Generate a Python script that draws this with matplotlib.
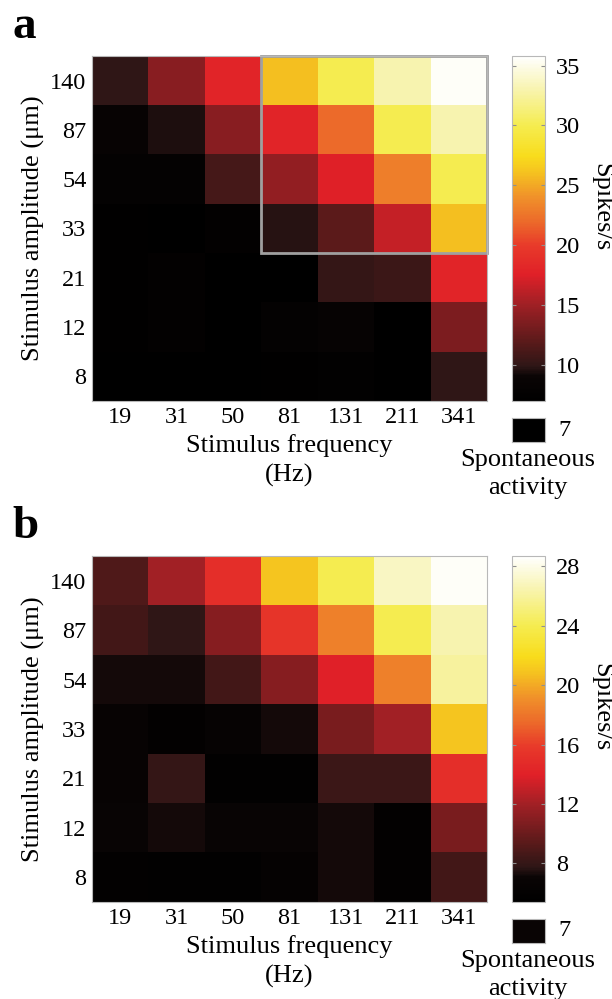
import numpy as np
import matplotlib
matplotlib.use("Agg")
import matplotlib.pyplot as plt
from matplotlib.colors import LinearSegmentedColormap, Normalize
from matplotlib.patches import Rectangle

plt.rcParams["font.family"] = ["Liberation Serif", "DejaVu Serif"]

# data
freqs = ["19", "31", "50", "81", "131", "211", "341"]
amps = ["140", "87", "54", "33", "21", "12", "8"]  # top to bottom

rates_a = [
    [10.0, 14.0, 18.0, 26.0, 30.0, 33.0, 35.5],
    [8.5, 9.5, 14.0, 18.0, 22.0, 30.0, 33.0],
    [8.0, 8.0, 11.0, 14.5, 17.5, 23.0, 30.0],
    [7.3, 7.0, 7.8, 9.8, 12.0, 16.5, 26.0],
    [7.3, 7.8, 7.0, 7.2, 10.2, 10.5, 18.0],
    [7.3, 7.8, 7.0, 8.0, 8.3, 7.2, 13.5],
    [7.2, 7.0, 7.0, 7.3, 7.5, 7.2, 10.0],
]
rates_b = [
    [9.0, 12.0, 15.0, 21.0, 24.0, 27.0, 28.5],
    [8.5, 7.8, 11.0, 15.5, 18.5, 24.0, 26.5],
    [7.3, 7.3, 8.5, 11.0, 14.0, 18.5, 26.0],
    [6.7, 6.0, 6.5, 7.3, 10.5, 12.0, 21.0],
    [6.7, 8.0, 5.9, 5.9, 8.3, 8.3, 15.0],
    [6.8, 7.3, 6.8, 6.8, 7.3, 6.0, 10.5],
    [6.0, 5.9, 5.9, 6.3, 7.3, 6.0, 8.5],
]
spont_a = 7
spont_b = 7
range_a = (7.0, 35.8)
range_b = (5.4, 28.7)
ticks_a = [10, 15, 20, 25, 30, 35]
ticks_b = [8, 12, 16, 20, 24, 28]

cmap = LinearSegmentedColormap.from_list("spk", [
    (0.0, "#000000"), (0.07, "#0a0505"), (0.1, "#2e1616"), (0.17, "#5a1a1a"),
    (0.28, "#a02025"), (0.366, "#e02028"), (0.45, "#e83a2a"), (0.52, "#ec6a2a"),
    (0.59, "#f0902a"), (0.66, "#f5c020"), (0.71, "#f8dc1c"), (0.80, "#f5ec50"),
    (0.906, "#f8f4b0"), (1.0, "#ffffff")])

W, H = 612, 999
fig = plt.figure(figsize=(W / 100, H / 100), dpi=100)


def px(x0, y0, x1, y1):
    return [x0 / W, 1 - y1 / H, (x1 - x0) / W, (y1 - y0) / H]


def fy(y):
    return 1 - y / H


def panel(letter, rates, vr, ticks, spont, top, bot, box=False):
    norm = Normalize(*vr)
    ax = fig.add_axes(px(92, top, 487, bot))
    im = ax.imshow(np.array(rates), cmap=cmap, norm=norm, aspect="auto",
                   interpolation="nearest")
    ax.set_xticks(range(len(freqs)), freqs)
    ax.set_yticks(range(len(amps)), amps)
    ax.tick_params(length=0, labelsize=17.5, pad=4)
    for s in ax.spines.values():
        s.set_color("#b8b8b8")
        s.set_linewidth(0.8)
    ax.set_ylabel("Stimulus amplitude (\u03bcm)", fontsize=19, labelpad=4)
    ax.set_xlabel("Stimulus frequency\n(Hz)", fontsize=19, labelpad=5,
                  linespacing=1.35)
    if box:
        ax.add_patch(Rectangle((2.5, -0.5), 4, 4, fill=False, ec="#a0a0a0",
                               lw=2, clip_on=False))
    fig.text(12 / W, fy(top - 18), letter, fontsize=34,
             fontweight="bold", va="baseline", ha="left")

    cax = fig.add_axes(px(512, top, 545, bot))
    cb = fig.colorbar(im, cax=cax, ticks=ticks)
    cb.outline.set_edgecolor("#b8b8b8")
    cb.outline.set_linewidth(0.8)
    cax.tick_params(labelsize=17.5, length=3, direction="in", color="#909090",
                    pad=8, left=True)
    fig.text(601 / W, fy(top + 151), "Spikes/s", rotation=-90,
             fontsize=19, ha="center", va="center")

    sax = fig.add_axes(px(512, bot + 17, 545, bot + 41))
    sax.imshow([[spont]], cmap=cmap, norm=norm, aspect="auto")
    sax.set_xticks([])
    sax.set_yticks([])
    for s in sax.spines.values():
        s.set_color("#b8b8b8")
        s.set_linewidth(0.8)
    fig.text(558 / W, fy(bot + 29), str(spont), fontsize=17.5,
             ha="left", va="center")
    fig.text(528 / W, fy(bot + 73), "Spontaneous\nactivity",
             fontsize=19, ha="center", va="center", linespacing=1.3)


panel("a", rates_a, range_a, ticks_a, spont_a, 56, 401, box=True)
panel("b", rates_b, range_b, ticks_b, spont_b, 556, 902)

fig.savefig("out.png", dpi=100)
